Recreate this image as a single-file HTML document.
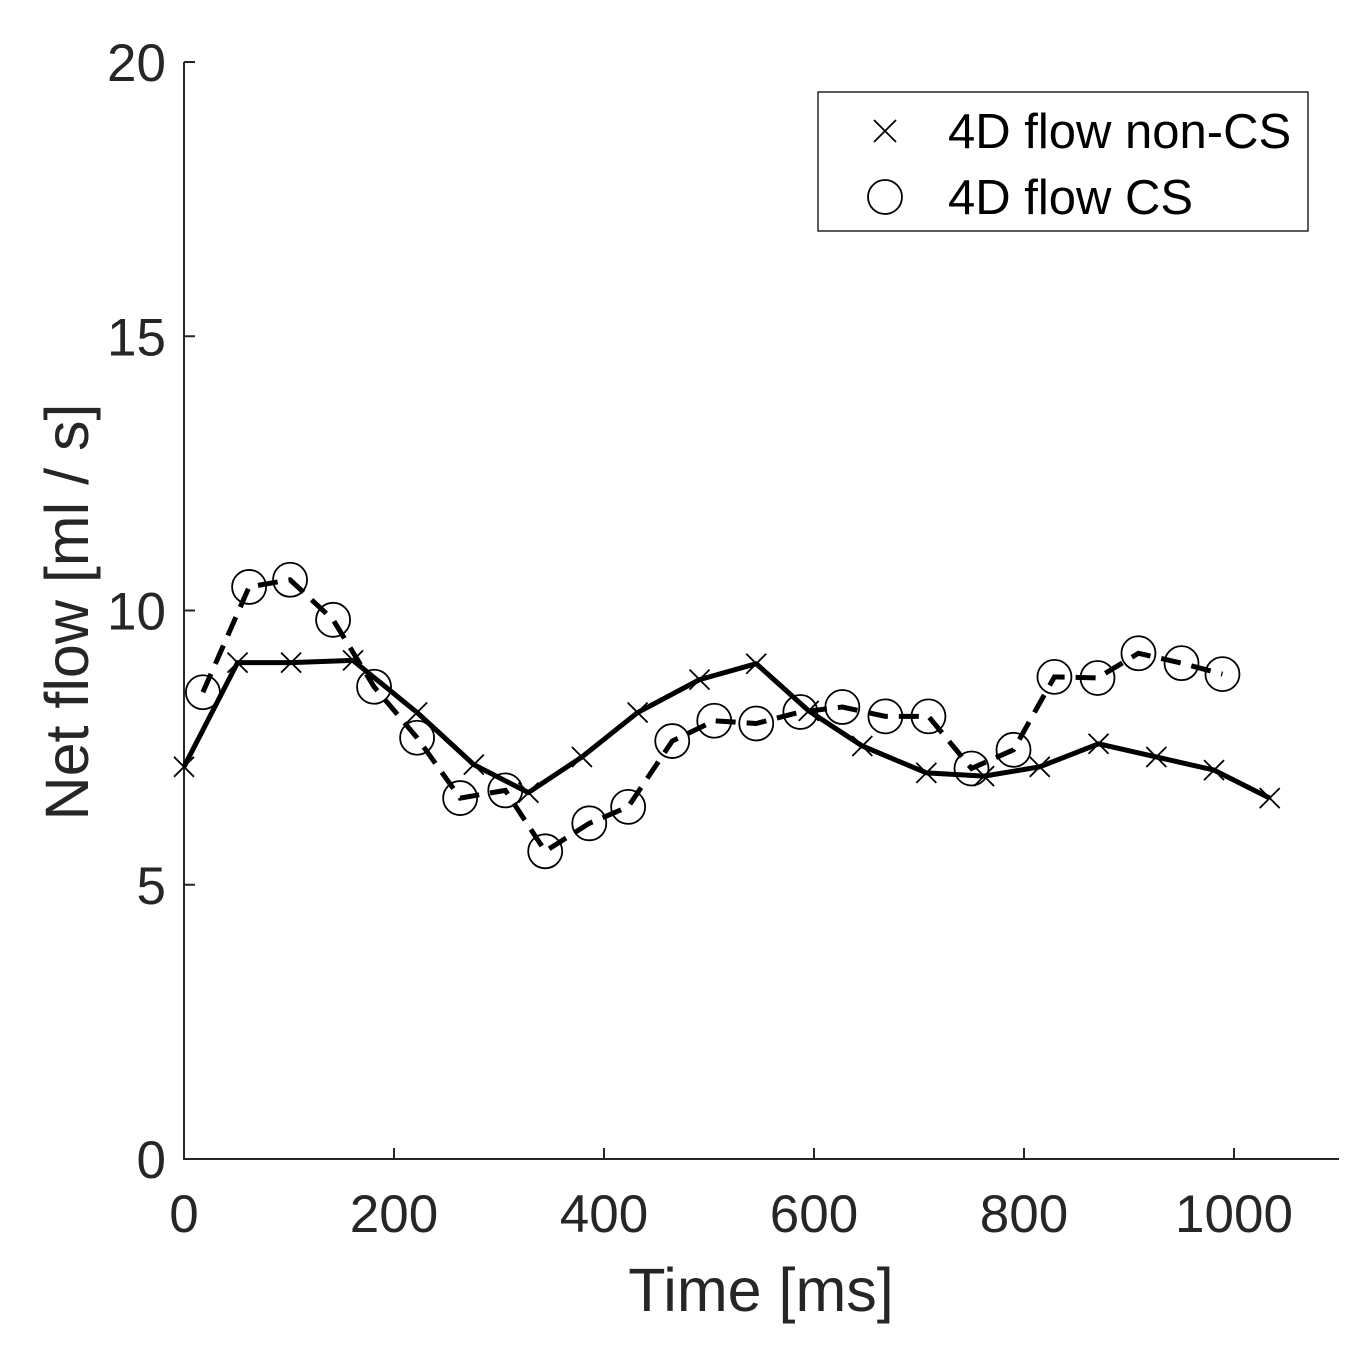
<!DOCTYPE html>
<html><head><meta charset="utf-8">
<style>
html,body{margin:0;padding:0;background:#fff;}
svg{display:block;font-family:"Liberation Sans",Arial,sans-serif;}
</style></head>
<body>
<svg id="chart" width="1369" height="1347" viewBox="0 0 1369 1347"></svg>
<script>
const nonCsTimes=[0,51,102,161,222,276,328,379,432,491,545,595,646,707,762,815,871,926,981,1034];
const nonCsValues=[7.15,9.05,9.05,9.09,8.14,7.19,6.68,7.33,8.14,8.74,9.03,8.17,7.53,7.04,6.98,7.15,7.57,7.33,7.09,6.58];
const csTimes=[18,62,101,142,181,222,263,306,344,386,423,465,505,545,587,627,668,709,750,790,829,870,909,950,989];
const csValues=[8.51,10.43,10.56,9.83,8.61,7.68,6.58,6.72,5.61,6.12,6.42,7.62,7.99,7.94,8.15,8.24,8.07,8.07,7.12,7.46,8.79,8.77,9.22,9.04,8.84];
const xTicks=[0,200,400,600,800,1000];
const yTicks=[0,5,10,15,20];

const NS="http://www.w3.org/2000/svg";
const svg=document.getElementById('chart');
const X0=184,XPX=1.05,Y0=1159,YPX=54.85;
const sx=v=>X0+v*XPX, sy=v=>Y0-v*YPX;
function mk(tag,attrs,parent){const e=document.createElementNS(NS,tag);for(const k in attrs)e.setAttribute(k,attrs[k]);(parent||svg).appendChild(e);return e;}

const ax=mk('path',{d:`M${X0} ${sy(20)} L${X0} ${Y0} L${sx(1100)} ${Y0}`,fill:'none',stroke:'#262626','stroke-width':2});


xTicks.forEach(t=>{
  const l=mk('line',{x1:sx(t),x2:sx(t),y1:Y0,y2:Y0-11,stroke:'#262626','stroke-width':2});
  
  
  const tx=mk('text',{x:sx(t),y:Y0+73,'text-anchor':'middle','font-size':53,fill:'#262626'});
  tx.textContent=t;
  
  
});
yTicks.forEach(t=>{
  const l=mk('line',{x1:X0,x2:X0+11,y1:sy(t),y2:sy(t),stroke:'#262626','stroke-width':2});
  
  
  const tx=mk('text',{x:X0-18,y:sy(t)+19,'text-anchor':'end','font-size':53,fill:'#262626'});
  tx.textContent=t;
  
  
});
const xt=mk('text',{x:761,y:1311,'text-anchor':'middle','font-size':61,fill:'#262626'});
xt.textContent='Time [ms]';


const yt=mk('text',{x:0,y:0,'text-anchor':'middle','font-size':61,fill:'#262626',transform:'translate(88,612) rotate(-90)'});
yt.textContent='Net flow [ml / s]';



const p1=mk('polyline',{points:nonCsTimes.map((t,i)=>sx(t)+','+sy(nonCsValues[i])).join(' '),fill:'none',stroke:'#000','stroke-width':5,'stroke-linejoin':'round'});


const p2=mk('polyline',{points:csTimes.map((t,i)=>sx(t)+','+sy(csValues[i])).join(' '),fill:'none',stroke:'#000','stroke-width':5,'stroke-dasharray':'20 11'});



nonCsTimes.forEach((t,i)=>{
  const x=sx(t),y=sy(nonCsValues[i]),d=10;
  const m=mk('path',{d:`M${x-d} ${y-d}L${x+d} ${y+d}M${x-d} ${y+d}L${x+d} ${y-d}`,stroke:'#000','stroke-width':1.8,fill:'none'});
  
  
});
csTimes.forEach((t,i)=>{
  const c=mk('circle',{cx:sx(t),cy:sy(csValues[i]),r:17,fill:'none',stroke:'#000','stroke-width':1.8});
  
  
});

const lg=mk('g',{});


mk('rect',{x:818,y:92,width:490,height:139,fill:'#fff',stroke:'#262626','stroke-width':1.5},lg);
const e1=mk('g',{},lg);


mk('path',{d:'M874 120L896 142M874 142L896 120',stroke:'#000','stroke-width':1.8},e1);
const l1=mk('text',{x:948,y:148,'font-size':49,fill:'#000'},e1);l1.textContent='4D flow non-CS';
const e2=mk('g',{},lg);


mk('circle',{cx:885,cy:197,r:17,fill:'none',stroke:'#000','stroke-width':1.8},e2);
const l2=mk('text',{x:948,y:214,'font-size':49,fill:'#000'},e2);l2.textContent='4D flow CS';
</script>
</body></html>
